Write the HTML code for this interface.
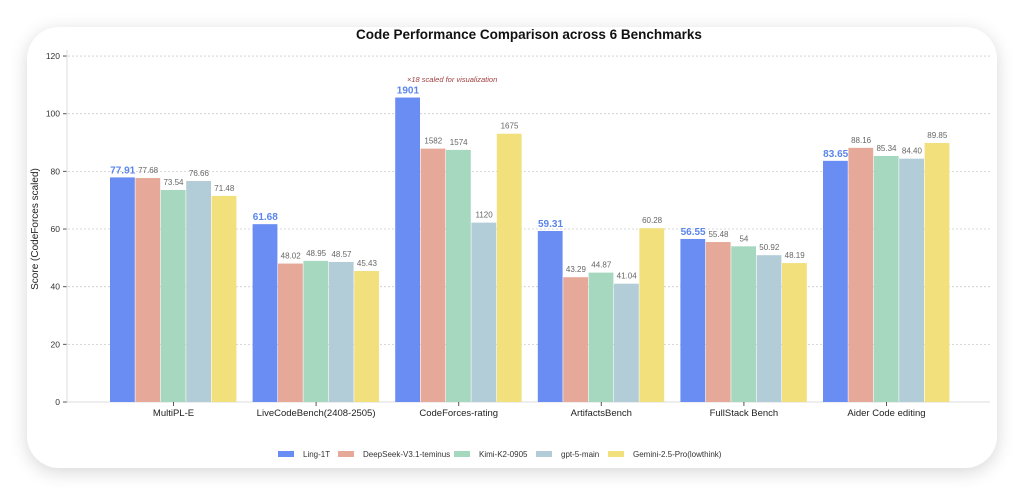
<!DOCTYPE html>
<html><head><meta charset="utf-8"><style>
html,body{margin:0;padding:0;background:#fff;width:1024px;height:497px;overflow:hidden}
#bg{position:absolute;left:0;top:0;width:1024px;height:497px;background:#fff}
#card{position:absolute;left:27px;top:27px;width:970px;height:441px;background:#fff;border-radius:32px;box-shadow:0 4px 18px rgba(0,0,0,0.16)}
svg{position:absolute;left:0;top:0}
text{font-family:"Liberation Sans",sans-serif}
</style></head><body>
<div id="bg"></div><div id="card"></div>
<svg id="s" width="1024" height="497"></svg>
<script>
const s=document.getElementById('s');const NS='http://www.w3.org/2000/svg';
function el(t,a,txt){const e=document.createElementNS(NS,t);for(const k in a)e.setAttribute(k,a[k]);if(txt!==undefined)e.textContent=txt;s.appendChild(e);return e;}
const y0=402,k=2.883;const Y=v=>y0-v*k;
el('text',{x:529,y:39,'font-size':13.5,'font-weight':'bold','text-anchor':'middle',fill:'#111'},'Code Performance Comparison across 6 Benchmarks');
for(let v=0;v<=120;v+=20){const y=Y(v);
 if(v>0)el('line',{x1:68,x2:990,y1:y,y2:y,stroke:'#ccc','stroke-dasharray':'2,2','stroke-width':0.8});
 el('line',{x1:63,x2:67,y1:y,y2:y,stroke:'#555'});
 el('text',{x:60,y:y+3,'font-size':8.5,'text-anchor':'end',fill:'#333'},v);}
el('line',{x1:67,x2:67,y1:50,y2:402,stroke:'#ddd'});
el('line',{x1:67,x2:990,y1:402,y2:402,stroke:'#ddd'});
el('text',{x:38,y:229,'font-size':10,'text-anchor':'middle',fill:'#222',transform:'rotate(-90 38 229)'},'Score (CodeForces scaled)');
const cols=['#6a8df3','#e6a898','#a6d8c0','#b2cdd7','#f1e07c'];
const cats=['MultiPL-E','LiveCodeBench(2408-2505)','CodeForces-rating','ArtifactsBench','FullStack Bench','Aider Code editing'];
const vals=[[77.91,77.68,73.54,76.66,71.48],[61.68,48.02,48.95,48.57,45.43],[1901,1582,1574,1120,1675],[59.31,43.29,44.87,41.04,60.28],[56.55,55.48,54,50.92,48.19],[83.65,88.16,85.34,84.40,89.85]];
const lbl=[['77.91','77.68','73.54','76.66','71.48'],['61.68','48.02','48.95','48.57','45.43'],['1901','1582','1574','1120','1675'],['59.31','43.29','44.87','41.04','60.28'],['56.55','55.48','54','50.92','48.19'],['83.65','88.16','85.34','84.40','89.85']];
const bw=25.4;
for(let i=0;i<6;i++){const gx=110+142.6*i;
 for(let j=0;j<5;j++){let v=vals[i][j];if(i==2)v=v/18;const x=gx+j*bw,y=Y(v);
  el('rect',{x:x,y:y,width:bw-0.6,height:y0-y,fill:cols[j]});
  if(j==0)el('text',{x:x+bw/2,y:y-4,'font-size':10,'font-weight':'bold','text-anchor':'middle',fill:'#5a85ee'},lbl[i][j]);
  else el('text',{x:x+bw/2,y:y-5,'font-size':8,'text-anchor':'middle',fill:'#666'},lbl[i][j]);}
 const cx=gx+2.5*bw;el('line',{x1:cx,x2:cx,y1:402,y2:406,stroke:'#555'});
 el('text',{x:cx,y:416,'font-size':9.5,'text-anchor':'middle',fill:'#222'},cats[i]);}
el('text',{x:407,y:82,'font-size':7.5,'font-style':'italic',fill:'#a04040'},'×18 scaled for visualization');
const leg=[['Ling-1T',278],['DeepSeek-V3.1-teminus',338],['Kimi-K2-0905',454],['gpt-5-main',536],['Gemini-2.5-Pro(lowthink)',608]];
leg.forEach((l,j)=>{el('rect',{x:l[1],y:451,width:16,height:6,fill:cols[j]});el('text',{x:l[1]+25,y:457,'font-size':8,fill:'#333'},l[0]);});
</script>
</body></html>
